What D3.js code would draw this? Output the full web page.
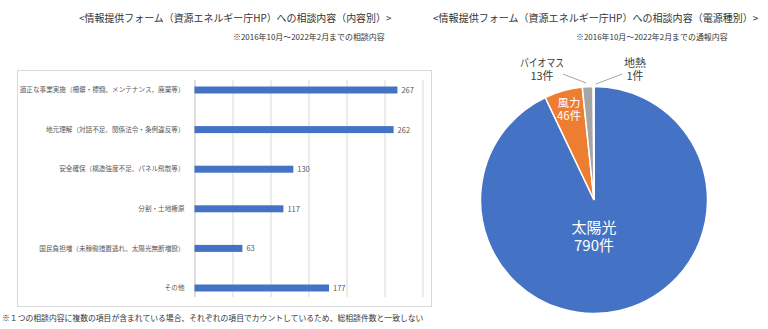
<!DOCTYPE html>
<html><head><meta charset="utf-8">
<script src="https://cdn.jsdelivr.net/npm/d3@7"></script>
<style>
body{margin:0;background:#fff;}
svg{display:block;font-family:"Noto Sans CJK JP","Noto Sans",sans-serif;}
</style></head>
<body><svg id="c" width="768" height="329"></svg>
<script>
const barCategories = ["適正な事業実施（柵塀・標識、メンテナンス、廃棄等）","地元理解（対話不足、関係法令・条例違反等）","安全確保（構造強度不足、パネル飛散等）","分割・土地権原","国民負担増（未稼働措置逃れ、太陽光無断増設）","その他"];
const barValues = [267,262,130,117,63,177];
const xTicks = [0,50,100,150,200,250,300];
const pieCategories = ["太陽光","風力","バイオマス","地熱"];
const pieValues = [790,46,13,1];
const pieColors = ["#4472C4","#ED7D31","#A5A5A5","#FFC000"];

const svg = d3.select("#c");

// scale font so the text's natural width matches the target width
function fitFont(sel, w){
  const fs = +sel.attr("font-size");
  const len = sel.node().getComputedTextLength();
  if (len > 0) sel.attr("font-size", fs * w / len);
  return sel;
}

// Titles
fitFont(svg.append("text").attr("x",79).attr("y",22)
  .attr("font-size",10.5).attr("fill","#333").text("<情報提供フォーム（資源エネルギー庁HP）への相談内容（内容別）>"), 313);
fitFont(svg.append("text").attr("x",233).attr("y",40)
  .attr("font-size",7).attr("fill","#333").text("※2016年10月～2022年2月までの相談内容"), 152);
fitFont(svg.append("text").attr("x",433).attr("y",22)
  .attr("font-size",10.5).attr("fill","#333").text("<情報提供フォーム（資源エネルギー庁HP）への相談内容（電源種別）>"), 326);
fitFont(svg.append("text").attr("x",576).attr("y",40)
  .attr("font-size",7).attr("fill","#333").text("※2016年10月～2022年2月までの通報内容"), 152);

// Bar chart frame
svg.append("rect").attr("x",17.5).attr("y",70.5).attr("width",414).attr("height",236)
  .attr("fill","#fff").attr("stroke","#d9d9d9");

const x = d3.scaleLinear().domain([0,300]).range([194.5,422.5]);
const y = d3.scaleBand().domain(barCategories).range([70.2,307.8]).paddingInner(0.82).paddingOuter(0.41);

const grid = svg.append("g")
  .call(d3.axisBottom(x).tickValues(xTicks).tickSize(217).tickFormat(""));
grid.attr("transform","translate(0,80)");
grid.select(".domain").remove();
grid.selectAll(".tick line").attr("stroke","#d9d9d9").attr("stroke-width",1);
grid.selectAll(".tick").filter(d=>d===0).select("line").attr("stroke","#bfbfbf");

svg.selectAll("rect.bar").data(barValues).enter().append("rect").attr("class","bar")
  .attr("x",x(0)).attr("y",(d,i)=>y(barCategories[i]) + y.bandwidth()/2 - 3.5)
  .attr("width",d=>x(d)-x(0)).attr("height",7).attr("fill","#4472C4");

svg.selectAll("text.val").data(barValues).enter().append("text").attr("class","val")
  .attr("x",d=>x(d)+4).attr("y",(d,i)=>y(barCategories[i]) + y.bandwidth()/2 + 3)
  .attr("font-size",7.5).attr("fill","#595959").text(d=>d);

const yAxis = svg.append("g").attr("transform","translate(194.5,0)")
  .call(d3.axisLeft(y).tickSize(0).tickPadding(10));
yAxis.select(".domain").remove();
yAxis.selectAll("text").attr("font-size",6.6).attr("fill","#595959")
  .attr("font-family","\"Noto Sans CJK JP\",sans-serif");

fitFont(svg.append("text").attr("x",2).attr("y",321).attr("font-size",7.5).attr("fill","#333")
  .text("※１つの相談内容に複数の項目が含まれている場合、それぞれの項目でカウントしているため、総相談件数と一致しない"), 422);

// Pie
const cx = 594, cy = 200, r = 113.5;
const pie = d3.pie().sort(null).value(d=>d)(pieValues);
const arc = d3.arc().innerRadius(0).outerRadius(r);
const g = svg.append("g").attr("transform",`translate(${cx},${cy})`);
g.selectAll("path").data(pie).enter().append("path").attr("d",arc)
  .attr("fill",(d,i)=>pieColors[i]).attr("stroke","#fff").attr("stroke-width",1.5);

function label2(x0, y0, dy, fs, color, l1, l2, w1){
  const a = g.append("text").attr("text-anchor","middle").attr("fill",color).attr("font-size",fs)
    .attr("x",x0).attr("y",y0).text(l1);
  if (w1) a.attr("textLength",w1).attr("lengthAdjust","spacingAndGlyphs");
  g.append("text").attr("text-anchor","middle").attr("fill",color).attr("font-size",fs)
    .attr("x",x0).attr("y",y0+dy).text(l2);
}

// Inside labels
label2(0, 33, 18, 15, "#fff", pieCategories[0], pieValues[0]+"件");
label2(-25, -93, 12.5, 11.5, "#fff", pieCategories[1], pieValues[1]+"件");

// Outside labels with leaders
const outs = [
  {i:2, lx:-52, ly:-133, l1:[-31,-126], l2:[-8,-117], w:44},
  {i:3, lx:41, ly:-133, l1:[28,-126], l2:[2,-116], w:0}
];
outs.forEach(o=>{
  g.append("line").attr("x1",o.l1[0]).attr("y1",o.l1[1]).attr("x2",o.l2[0]).attr("y2",o.l2[1])
    .attr("stroke","#a6a6a6").attr("stroke-width",1);
  label2(o.lx, o.ly, 12.5, 11, "#404040", pieCategories[o.i], pieValues[o.i]+"件", o.w);
});
</script></body></html>
